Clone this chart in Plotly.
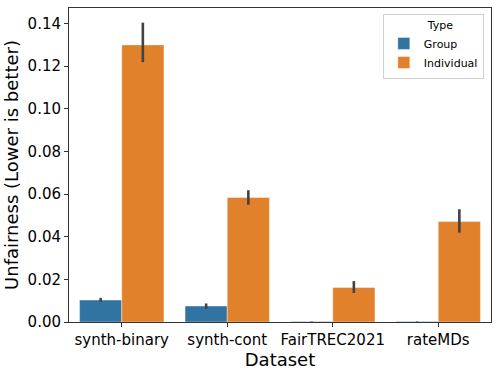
import plotly.graph_objects as go

datasets = ["synth-binary", "synth-cont", "FairTREC2021", "rateMDs"]

group_vals = [0.0103, 0.0075, 0.0002, 0.0002]
group_lo = [0.0095, 0.0062, 0.0001, 0.0001]
group_hi = [0.0113, 0.0087, 0.0003, 0.0003]

indiv_vals = [0.130, 0.0584, 0.0162, 0.0471]
indiv_lo = [0.1219, 0.0550, 0.0136, 0.0419]
indiv_hi = [0.1404, 0.0618, 0.0192, 0.0529]

blue = "#3274a1"
orange = "#e1812c"
font = "DejaVu Sans"


def err(vals, lo, hi):
    return dict(type="data", symmetric=False,
                array=[h - v for h, v in zip(hi, vals)],
                arrayminus=[v - l for v, l in zip(vals, lo)],
                color="#424242", thickness=2.6, width=0)


fig = go.Figure()
fig.add_trace(go.Bar(x=datasets, y=group_vals, name="Group",
                     marker=dict(color=blue, line=dict(color="rgba(255,255,255,0.4)", width=1)),
                     error_y=err(group_vals, group_lo, group_hi)))
fig.add_trace(go.Bar(x=datasets, y=indiv_vals, name="Individual",
                     marker=dict(color=orange, line=dict(color="rgba(255,255,255,0.4)", width=1)),
                     error_y=err(indiv_vals, indiv_lo, indiv_hi)))

fig.update_layout(
    width=499, height=372,
    margin=dict(l=69, r=8, t=8, b=50, autoexpand=False),
    plot_bgcolor="white", paper_bgcolor="white",
    barmode="group", bargap=0.2, bargroupgap=0,
    font=dict(family=font, size=15, color="black"),
    legend=dict(
        title=dict(text="\u00a0" * 12 + "Type", side="top", font=dict(size=11)),
        font=dict(size=11),
        x=0.983, y=0.982, xanchor="right", yanchor="top",
        bgcolor="rgba(255,255,255,0.8)", bordercolor="#d0d0d0", borderwidth=1,
        itemwidth=30, tracegroupgap=0,
    ),
)
fig.update_xaxes(
    title=dict(text="Dataset", standoff=0),
    automargin=False,
    showline=True, linecolor="#333", linewidth=1, mirror=True,
    ticks="outside", ticklen=4, tickcolor="#333",
    range=[-0.5, 3.5],
)
fig.update_yaxes(
    title=dict(text="Unfairness (Lower is better)", standoff=4),
    automargin=False,
    showline=True, linecolor="#333", linewidth=1, mirror=True,
    ticks="outside", ticklen=4, tickcolor="#333",
    range=[0, 0.1473], dtick=0.02, tickformat=".2f",
    showgrid=False, zeroline=False,
)

# the page body has a default 8px margin; drop it so the figure sits at 0,0
fig.write_html("out.html", config={"displayModeBar": False},
               post_script="document.body.style.margin='0';")
